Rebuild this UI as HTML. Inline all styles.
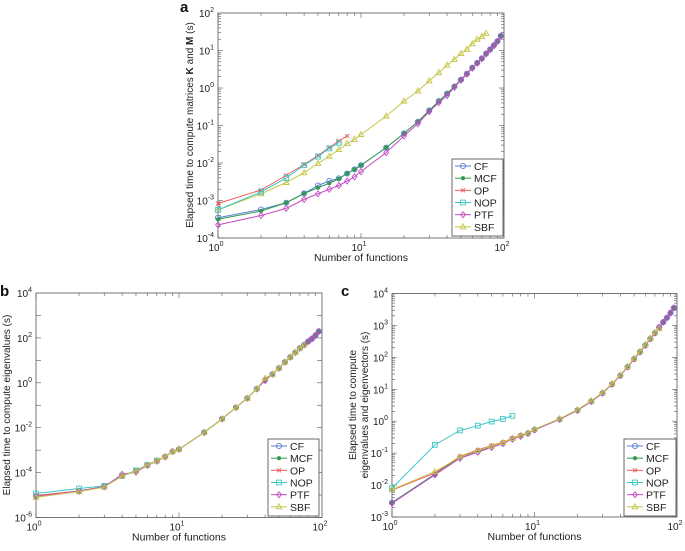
<!DOCTYPE html>
<html><head><meta charset="utf-8"><style>
html,body{margin:0;padding:0;background:#fff;}
body{width:685px;height:546px;overflow:hidden;font-family:"Liberation Sans",Arial,sans-serif;}
svg text{font-family:"Liberation Sans",Arial,sans-serif;}
</style></head><body>
<svg id="chart" width="685" height="546" xmlns="http://www.w3.org/2000/svg"></svg>
<script>
// shared x categories (number of functions)
const xFull = [1,2,3,4,5,6,7,8,9,10,15,20,25,30,35,40,45,50,55,60,65,70,75,80,85,90,95];
const xOP = [1,2,3,4,5,6,7,8];
const xNOP = [1,2,3,4,5,6,7];
const xSBF = [1,2,3,4,5,6,7,8,9,10,15,20,25,30,35,40,45,50,55,60,65,70,75];
const seriesNames = ["CF","MCF","OP","NOP","PTF","SBF"];
// panel a (log10 seconds)
const aCF  = [-3.46,-3.24,-3.06,-2.81,-2.60,-2.48,-2.41,-2.28,-2.17,-2.06,-1.59,-1.21,-0.90,-0.60,-0.35,-0.15,0.04,0.22,0.38,0.54,0.67,0.79,0.92,1.03,1.14,1.25,1.39];
const aMCF = [-3.50,-3.28,-3.06,-2.81,-2.66,-2.54,-2.42,-2.28,-2.17,-2.06,-1.59,-1.21,-0.90,-0.60,-0.35,-0.15,0.04,0.22,0.38,0.54,0.67,0.79,0.92,1.03,1.14,1.25,1.39];
const aOP  = [-3.08,-2.72,-2.33,-2.04,-1.80,-1.59,-1.41,-1.28];
const aNOP = [-3.25,-2.77,-2.40,-2.06,-1.83,-1.61,-1.46];
const aPTF = [-3.65,-3.40,-3.21,-2.97,-2.82,-2.70,-2.60,-2.48,-2.37,-2.23,-1.72,-1.28,-0.95,-0.63,-0.39,-0.20,0.02,0.21,0.37,0.53,0.66,0.78,0.91,1.02,1.13,1.24,1.38];
const aSBF = [-3.25,-2.82,-2.52,-2.26,-2.01,-1.82,-1.64,-1.48,-1.37,-1.24,-0.75,-0.35,-0.08,0.19,0.41,0.61,0.76,0.92,1.03,1.18,1.30,1.37,1.46];
// panel b
const bCF  = [-5.05,-4.82,-4.63,-4.15,-3.93,-3.66,-3.47,-3.29,-3.07,-2.96,-2.21,-1.61,-1.10,-0.69,-0.27,0.13,0.38,0.65,0.92,1.14,1.35,1.54,1.69,1.84,1.96,2.11,2.29];
const bMCF = [-5.05,-4.82,-4.63,-4.15,-3.93,-3.66,-3.47,-3.29,-3.07,-2.96,-2.21,-1.61,-1.10,-0.69,-0.27,0.13,0.38,0.65,0.92,1.14,1.35,1.54,1.69,1.84,1.96,2.11,2.29];
const bOP  = [-5.02,-4.82,-4.63,-4.15,-3.93,-3.66,-3.47,-3.29];
const bNOP = [-4.93,-4.71,-4.59,-4.15,-3.90,-3.66,-3.47];
const bPTF = [-5.07,-4.83,-4.63,-4.08,-3.98,-3.68,-3.49,-3.30,-3.05,-2.96,-2.21,-1.61,-1.10,-0.69,-0.27,0.10,0.38,0.65,0.92,1.14,1.35,1.54,1.69,1.84,1.96,2.11,2.29];
const bSBF = [-5.10,-4.85,-4.65,-4.15,-3.93,-3.66,-3.47,-3.29,-3.07,-2.96,-2.21,-1.61,-1.10,-0.69,-0.27,0.20,0.38,0.65,0.92,1.14,1.35,1.54,1.69];
// panel c
const cCF  = [-2.55,-1.66,-1.14,-0.95,-0.80,-0.69,-0.55,-0.46,-0.38,-0.27,0.06,0.34,0.62,0.88,1.16,1.43,1.70,1.95,2.17,2.38,2.58,2.76,2.94,3.10,3.24,3.39,3.55];
const cMCF = [-2.55,-1.66,-1.14,-0.92,-0.78,-0.67,-0.55,-0.46,-0.38,-0.27,0.06,0.34,0.62,0.88,1.16,1.43,1.70,1.95,2.17,2.38,2.58,2.76,2.94,3.10,3.24,3.39,3.55];
const cOP  = [-2.16,-1.62,-1.10,-0.90,-0.76,-0.66,-0.53,-0.44];
const cNOP = [-2.10,-0.74,-0.29,-0.14,-0.01,0.07,0.17];
const cPTF = [-2.57,-1.68,-1.16,-0.97,-0.82,-0.70,-0.56,-0.47,-0.38,-0.27,0.06,0.34,0.62,0.88,1.16,1.43,1.70,1.95,2.17,2.38,2.58,2.76,2.94,3.10,3.24,3.39,3.55];
const cSBF = [-2.14,-1.58,-1.12,-0.92,-0.78,-0.67,-0.54,-0.44,-0.36,-0.25,0.08,0.36,0.64,0.90,1.18,1.45,1.72,1.97,2.19,2.40,2.60,2.78,2.90];

const colors = {CF:"#5b82d6",MCF:"#2e9a4e",OP:"#f05a5a",NOP:"#3cc6c6",PTF:"#c44cc4",SBF:"#c6c64a"};
const NS="http://www.w3.org/2000/svg";
const svg=document.getElementById('chart');
function mk(tag,attrs,parent){const e=document.createElementNS(NS,tag);for(const k in attrs)e.setAttribute(k,attrs[k]);(parent||svg).appendChild(e);return e;}

function marker(g,type,x,y,col){
  let e;
  if(type==="CF"){e=mk('circle',{cx:x,cy:y,r:2.6,fill:'none',stroke:col,'stroke-width':0.9},g);}
  else if(type==="MCF"){e=mk('circle',{cx:x,cy:y,r:1.8,fill:col,stroke:col,'stroke-width':0.6},g);}
  else if(type==="OP"){e=mk('path',{d:`M${x-2},${y-2}L${x+2},${y+2}M${x-2},${y+2}L${x+2},${y-2}`,stroke:col,'stroke-width':0.9},g);}
  else if(type==="NOP"){e=mk('rect',{x:x-2.4,y:y-2.4,width:4.8,height:4.8,fill:'none',stroke:col,'stroke-width':0.9},g);}
  else if(type==="PTF"){e=mk('path',{d:`M${x},${y-3}L${x+2.4},${y}L${x},${y+3}L${x-2.4},${y}Z`,fill:'none',stroke:col,'stroke-width':0.9},g);}
  else {e=mk('path',{d:`M${x},${y-3}L${x+2.8},${y+2}L${x-2.8},${y+2}Z`,fill:'none',stroke:col,'stroke-width':0.9},g);}
  
  
}

function panel(opt){
  const {id,L,R,T,B,ymin,ymax,series,legend,letter,letterX,letterY,ytitle}=opt;
  const g=mk('g',{});
  
  
  const sx=v=>L+(Math.log10(v))/2*(R-L);
  const sy=lv=>B-(lv-ymin)/(ymax-ymin)*(B-T);
  // ticks
  const tg=mk('g',{stroke:'#555','stroke-width':0.6},g);
  
  
  for(let d=0;d<2;d++)for(let m=1;m<10;m++){const v=Math.pow(10,d)*m;const x=sx(v);const len=m===1?5:3;
    mk('line',{x1:x,y1:B,x2:x,y2:B-len},tg);mk('line',{x1:x,y1:T,x2:x,y2:T+len},tg);}
  for(let e=ymin;e<ymax;e++)for(let m=1;m<10;m++){const lv=e+Math.log10(m);const y=sy(lv);const len=m===1?5:3;
    if((ymax-ymin)>8 && m>1) continue;
    mk('line',{x1:L,y1:y,x2:L+len,y2:y},tg);mk('line',{x1:R,y1:y,x2:R-len,y2:y},tg);}
  const fr=mk('rect',{x:L,y:T,width:R-L,height:B-T,fill:'none',stroke:'#555','stroke-width':0.8},g);
  
  
  // tick labels
  const step=(ymax-ymin)>8?2:1;
  for(let e=ymin;e<=ymax;e+=step){const t=mk('text',{x:L-4,y:sy(e)+4,'font-size':10,'text-anchor':'end',fill:'#222'},g);
    
    
    t.innerHTML=`10<tspan dy="-5" font-size="7">${e}</tspan>`;}
  [0,1,2].forEach(e=>{const t=mk('text',{x:sx(Math.pow(10,e))-2,y:B+13,'font-size':10,'text-anchor':'middle',fill:'#222'},g);
    
    
    t.innerHTML=`10<tspan dy="-5" font-size="7">${e}</tspan>`;});
  const xt=mk('text',{x:(L+R)/2,y:B+23,'font-size':10.5,'text-anchor':'middle',fill:'#222'},g);
  
  
  xt.textContent='Number of functions';
  ytitle(g);
  const lt=mk('text',{x:letterX,y:letterY,'font-size':15,'font-weight':'bold',fill:'#111'},g);
  
  
  lt.textContent=letter;
  // series
  series.forEach(s=>{
    const sg=mk('g',{},g);
    
    
    const col=colors[s.name];
    const pts=s.y.map((v,i)=>[sx(s.x[i]),sy(v)]);
    mk('polyline',{points:pts.map(p=>p.join(',')).join(' '),fill:'none',stroke:col,'stroke-width':1},sg);
    pts.forEach(p=>marker(sg,s.name,p[0],p[1],col));
  });
  // legend
  const lg=mk('g',{},g);
  
  
  mk('rect',{x:legend.x,y:legend.y,width:legend.w,height:legend.h,fill:'#fff',stroke:'#444','stroke-width':0.8},lg);
  seriesNames.forEach((n,i)=>{
    const eg=mk('g',{},lg);
    
    
    const y=legend.y+7+i*(legend.h-4)/6;
    mk('line',{x1:legend.x+3,y1:y,x2:legend.x+19,y2:y,stroke:colors[n],'stroke-width':1},eg);
    marker(eg,n,legend.x+11,y,colors[n]);
    const t=mk('text',{x:legend.x+22,y:y+4,'font-size':10.5,fill:'#222'},eg);
    t.textContent=n;
  });
}

panel({id:'a',L:218,R:504,T:13,B:238,ymin:-4,ymax:2,letter:'a',letterX:180,letterY:12,
 legend:{x:452,y:159,w:51,h:77},
 series:[{name:'SBF',x:xSBF,y:aSBF},{name:'OP',x:xOP,y:aOP},{name:'NOP',x:xNOP,y:aNOP},{name:'CF',x:xFull,y:aCF},{name:'MCF',x:xFull,y:aMCF},{name:'PTF',x:xFull,y:aPTF}],
 ytitle:g=>{const t=mk('text',{transform:'translate(193,125) rotate(-90)','font-size':10,'text-anchor':'middle',fill:'#222'},g);
   
   
   t.innerHTML='Elapsed time to compute matrices <tspan font-weight="bold">K</tspan> and <tspan font-weight="bold">M</tspan> (s)';}
});
panel({id:'b',L:36,R:322,T:293,B:517.5,ymin:-6,ymax:4,letter:'b',letterX:0,letterY:296,
 legend:{x:268,y:439,w:51,h:77},
 series:[{name:'CF',x:xFull,y:bCF},{name:'MCF',x:xFull,y:bMCF},{name:'OP',x:xOP,y:bOP},{name:'NOP',x:xNOP,y:bNOP},{name:'PTF',x:xFull,y:bPTF},{name:'SBF',x:xSBF,y:bSBF}],
 ytitle:g=>{const t=mk('text',{transform:'translate(10,405) rotate(-90)','font-size':10,'text-anchor':'middle',fill:'#222'},g);
   
   
   t.textContent='Elapsed time to compute eigenvalues (s)';}
});
panel({id:'c',L:392,R:677,T:293.5,B:517,ymin:-3,ymax:4,letter:'c',letterX:341,letterY:296,
 legend:{x:624,y:439,w:52,h:77},
 series:[{name:'CF',x:xFull,y:cCF},{name:'MCF',x:xFull,y:cMCF},{name:'OP',x:xOP,y:cOP},{name:'NOP',x:xNOP,y:cNOP},{name:'PTF',x:xFull,y:cPTF},{name:'SBF',x:xSBF,y:cSBF}],
 ytitle:g=>{const t=mk('text',{transform:'translate(356,405) rotate(-90)','font-size':10,'text-anchor':'middle',fill:'#222'},g);
   
   
   t.innerHTML='<tspan x="0" dy="0">Elapsed time to compute</tspan><tspan x="0" dy="12">eigenvalues and eigenvectors (s)</tspan>';}
});
</script>
</body></html>
